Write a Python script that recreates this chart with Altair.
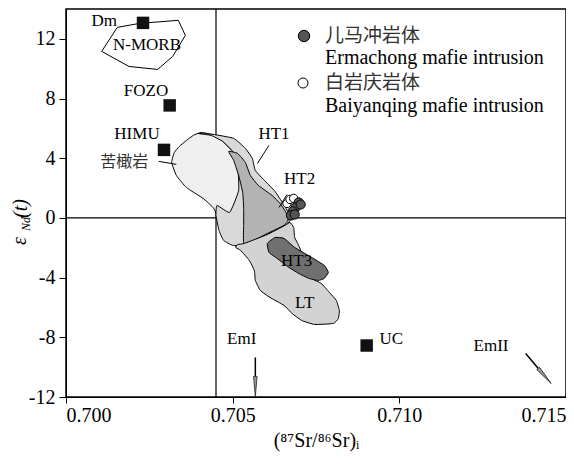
import altair as alt
import pandas as pd

# ---------------- data ----------------
x_ticks = [0.700, 0.705, 0.710, 0.715]
y_ticks = [-12, -8, -4, 0, 4, 8, 12]
x_domain = [0.700, 0.715]
y_domain = [-12, 14]

# end-member squares
em_names = ["Dm", "FOZO", "HIMU", "UC"]
em_x = [0.70231, 0.70311, 0.70294, 0.70902]
em_y = [13.07, 7.54, 4.56, -8.55]

# samples
erm_x = [0.70698, 0.70689, 0.70680, 0.70675, 0.70686, 0.70704]
erm_y = [1.04, 0.70, 0.44, 0.17, 0.23, 0.90]
bai_x = [0.70663, 0.70672, 0.70683]
bai_y = [0.97, 1.24, 1.31]

ref_x = 0.7045
ref_y = 0.0

# fields (polygon vertices)
nmorb_x = [0.70154, 0.70222, 0.70337, 0.70358, 0.70320, 0.70275, 0.70189, 0.70107]
nmorb_y = [12.77, 13.04, 13.24, 12.23, 10.82, 9.95, 10.15, 11.16]

pic_x = [0.70317, 0.70325, 0.70340, 0.70361, 0.70382, 0.70405, 0.70435, 0.70470, 0.70500,
         0.70530, 0.70559, 0.70598, 0.70636, 0.70660, 0.70657, 0.70604, 0.70538, 0.70515,
         0.70500, 0.70473, 0.70459, 0.70441, 0.70411, 0.70361, 0.70331]
pic_y = [3.72, 4.39, 4.79, 5.19, 5.53, 5.73, 5.60, 5.13, 4.46,
         3.59, 2.71, 1.78, 0.90, 0.23, -0.17, -0.97, -1.78, -2.04,
         -1.64, -0.97, -0.03, 0.70, 1.31, 2.04, 2.85]

ht1_x = [0.70396, 0.70441, 0.70503, 0.70538, 0.70559, 0.70568, 0.70598, 0.70627, 0.70651,
         0.70669, 0.70672, 0.70657, 0.70604, 0.70535, 0.70500, 0.70473, 0.70459, 0.70450,
         0.70453, 0.70491, 0.70518, 0.70515, 0.70500, 0.70470, 0.70435]
ht1_y = [5.66, 5.60, 5.33, 4.66, 3.99, 3.18, 2.45, 1.78, 0.97,
         0.30, -0.17, -0.57, -1.11, -1.78, -1.84, -1.51, -0.84, 0.17,
         0.84, 0.37, 1.84, 3.52, 4.46, 5.13, 5.53]

ht2_x = [0.70488, 0.70515, 0.70538, 0.70553, 0.70577, 0.70618, 0.70642, 0.70660, 0.70666,
         0.70654, 0.70604, 0.70535, 0.70533, 0.70533, 0.70530, 0.70518, 0.70503]
ht2_y = [4.46, 4.32, 3.72, 2.85, 2.18, 1.51, 0.97, 0.37, -0.17,
         -0.50, -1.04, -1.78, -0.50, 0.64, 1.71, 2.85, 3.85]

lt_x = [0.70515, 0.70535, 0.70604, 0.70657, 0.70672, 0.70683, 0.70686, 0.70698, 0.70722,
        0.70737, 0.70766, 0.70790, 0.70811, 0.70820, 0.70817, 0.70802, 0.70746, 0.70707,
        0.70678, 0.70654, 0.70612, 0.70583, 0.70568, 0.70565, 0.70550, 0.70524, 0.70509]
lt_y = [-1.78, -1.71, -1.11, -0.50, -0.30, -0.64, -1.31, -1.84, -3.18,
        -4.05, -4.39, -4.99, -5.53, -6.20, -6.74, -7.07, -7.14, -6.87,
        -6.40, -5.86, -5.33, -4.86, -4.19, -3.52, -2.85, -2.18, -1.98]

ht3_x = [0.70604, 0.70627, 0.70654, 0.70686, 0.70737, 0.70775, 0.70787, 0.70775, 0.70757,
         0.70728, 0.70698, 0.70669, 0.70633, 0.70609]
ht3_y = [-1.71, -1.31, -1.37, -1.98, -2.65, -3.18, -3.65, -4.05, -4.19,
         -4.05, -3.72, -3.32, -2.71, -2.31]

# text labels
lab_text = ["Dm", "N-MORB", "FOZO", "HIMU", "HT1", "HT2", "HT3", "LT", "EmI", "UC", "EmII"]
lab_x = [0.70115, 0.70243, 0.70240, 0.70213, 0.70624, 0.70701, 0.70692, 0.70716, 0.70527, 0.70976, 0.71275]
lab_y = [13.17, 11.56, 8.48, 5.60, 5.60, 2.58, -2.92, -5.73, -8.08, -8.14, -8.61]
pic_label = "苦橄岩"
pic_label_x = 0.70175
pic_label_y = 3.72

# leader lines
lead_x = [0.70278, 0.70609, 0.70663]
lead_y = [3.79, 4.86, 1.57]
lead_x2 = [0.70331, 0.70574, 0.70639]
lead_y2 = [3.59, 3.65, 0.70]

# arrows (shaft start, shaft end, head centre, head angle)
arr_x = [0.70568, 0.71379]
arr_y = [-9.35, -9.08]
arr_x2 = [0.70568, 0.71417]
arr_y2 = [-10.69, -10.09]
head_x = [0.70568, 0.71436]
head_y = [-11.29, -10.59]
head_angle = [0, 319]

# legend
leg_cn = ["儿马冲岩体", "白岩庆岩体"]
leg_en = ["Ermachong mafie intrusion", "Baiyanqing mafie intrusion"]

# ---------------- chart ----------------
SERIF = "Liberation Serif"
CJK = "Noto Sans CJK SC"
PLOT_W = 500
PLOT_H = 388

xs = alt.Scale(domain=x_domain, nice=False, zero=False)
ys = alt.Scale(domain=y_domain, nice=False, zero=False)


def X(field="x", axis=False):
    if axis:
        return alt.X(field + ":Q", scale=xs, axis=alt.Axis(
            values=x_ticks, format=".3f", title="(⁸⁷Sr/⁸⁶Sr)ᵢ", labelFlush=True,
            labelFontSize=20, labelFont=SERIF, labelColor="black", tickSize=6,
            tickColor="black", domainColor="black", labelPadding=2, grid=False,
            titleFont=SERIF, titleFontSize=20, titleFontWeight="normal",
            titleColor="black", titlePadding=5))
    return alt.X(field + ":Q", scale=xs)


def Y(field="y", axis=False):
    if axis:
        return alt.Y(field + ":Q", scale=ys, axis=alt.Axis(
            values=y_ticks, labelExpr="'' + datum.value", title=None, labelFlush=False,
            labelFontSize=20, labelFont=SERIF, labelColor="black", tickSize=7,
            tickColor="black", domainColor="black", labelPadding=4, grid=False))
    return alt.Y(field + ":Q", scale=ys)


def polygon(px, py, fill, interp="cardinal-closed"):
    df = pd.DataFrame({"x": px, "y": py, "i": list(range(len(px)))})
    return alt.Chart(df).mark_line(
        fill=fill, stroke="black", strokeWidth=1, interpolate=interp, tension=0.6
    ).encode(x=X(), y=Y(), order="i:Q")


base_df = pd.DataFrame({"x": [ref_x], "y": [ref_y]})
vline = alt.Chart(base_df).mark_rule(color="black", strokeWidth=1.2).encode(x=X("x", axis=True))
hline = alt.Chart(base_df).mark_rule(color="black", strokeWidth=1.2).encode(y=Y("y", axis=True))

nmorb = polygon(nmorb_x, nmorb_y, "none", "linear-closed")
pic = polygon(pic_x, pic_y, "#efefef")
ht1 = polygon(ht1_x, ht1_y, "#d9d9d9")
ht2 = polygon(ht2_x, ht2_y, "#b3b3b3")
lt = polygon(lt_x, lt_y, "#d3d3d3")
ht3 = polygon(ht3_x, ht3_y, "#707070")

em_df = pd.DataFrame({"x": em_x, "y": em_y, "name": em_names})
squares = alt.Chart(em_df).mark_square(size=155, color="#111111", opacity=1).encode(x=X(), y=Y())

bai_df = pd.DataFrame({"x": bai_x, "y": bai_y})
bai = alt.Chart(bai_df).mark_point(shape="circle", size=70, filled=True, fill="white",
                                   stroke="black", strokeWidth=1, opacity=1).encode(x=X(), y=Y())
erm_df = pd.DataFrame({"x": erm_x, "y": erm_y})
erm = alt.Chart(erm_df).mark_point(shape="circle", size=85, filled=True, fill="#555555",
                                   stroke="black", strokeWidth=1, opacity=1).encode(x=X(), y=Y())

lab_df = pd.DataFrame({"x": lab_x, "y": lab_y, "t": lab_text})
labels = alt.Chart(lab_df).mark_text(font=SERIF, fontSize=17, color="black").encode(
    x=X(), y=Y(), text="t:N")
pic_df = pd.DataFrame({"x": [pic_label_x], "y": [pic_label_y], "t": [pic_label]})
pic_lab = alt.Chart(pic_df).mark_text(font=CJK, fontSize=16, color="#333333").encode(
    x=X(), y=Y(), text="t:N")

lead_df = pd.DataFrame({"x": lead_x, "y": lead_y, "x2": lead_x2, "y2": lead_y2})
leads = alt.Chart(lead_df).mark_rule(color="black", strokeWidth=1).encode(
    x=X(), y=Y(), x2="x2:Q", y2="y2:Q")

arr_df = pd.DataFrame({"x": arr_x, "y": arr_y, "x2": arr_x2, "y2": arr_y2})
shafts = alt.Chart(arr_df).mark_rule(color="black", strokeWidth=1.5).encode(
    x=X(), y=Y(), x2="x2:Q", y2="y2:Q")
head_df = pd.DataFrame({"x": head_x, "y": head_y, "a": head_angle})
heads = alt.Chart(head_df).mark_point(
    shape="M-0.18,-1L0.18,-1L0,1Z", size=400, filled=True, fill="#999999",
    stroke="#222222", strokeWidth=0.8, opacity=1).encode(
    x=X(), y=Y(), angle=alt.Angle("a:Q", scale=None))

# y-axis title pieces (pixel positions relative to plot area)
ytitle_df = pd.DataFrame({"t": ["ε", "Nd", "(t)"], "px": [-40, -36, -39], "py": [236, 222, 209],
                          "fs": [20, 12, 20]})
ytitle = alt.Chart(ytitle_df).mark_text(angle=270, align="left", baseline="alphabetic",
                                        font=SERIF, color="black", fontStyle="italic").encode(
    x=alt.X("px:Q", scale=None), y=alt.Y("py:Q", scale=None), text="t:N",
    size=alt.Size("fs:Q", scale=None, legend=None))

# legend
leg_sym_df = pd.DataFrame({"px": [238], "py": [27]})
leg_sym1 = alt.Chart(leg_sym_df).mark_point(shape="circle", size=130, filled=True, fill="#555555",
                                            stroke="black", strokeWidth=1, opacity=1).encode(
    x=alt.X("px:Q", scale=None), y=alt.Y("py:Q", scale=None))
leg_sym_df2 = pd.DataFrame({"px": [237], "py": [74]})
leg_sym2 = alt.Chart(leg_sym_df2).mark_point(shape="circle", size=100, filled=True, fill="white",
                                             stroke="black", strokeWidth=1, opacity=1).encode(
    x=alt.X("px:Q", scale=None), y=alt.Y("py:Q", scale=None))
leg_cn_df = pd.DataFrame({"t": leg_cn, "px": [259, 259], "py": [27, 74]})
leg_cn_t = alt.Chart(leg_cn_df).mark_text(font=CJK, fontSize=19, color="#333333", align="left",
                                          baseline="middle").encode(
    x=alt.X("px:Q", scale=None), y=alt.Y("py:Q", scale=None), text="t:N")
leg_en_df = pd.DataFrame({"t": leg_en, "px": [259, 259], "py": [49, 97]})
leg_en_t = alt.Chart(leg_en_df).mark_text(font=SERIF, fontSize=20, color="black", align="left",
                                          baseline="middle").encode(
    x=alt.X("px:Q", scale=None), y=alt.Y("py:Q", scale=None), text="t:N")

chart = alt.layer(
    vline, hline, nmorb, pic, ht1, ht2, lt, ht3, leads, shafts, heads,
    squares, bai, erm, labels, pic_lab, ytitle, leg_sym1, leg_sym2, leg_cn_t, leg_en_t
).properties(
    width=PLOT_W, height=PLOT_H,
    autosize=alt.AutoSizeParams(type="none"),
    padding={"left": 58, "top": 1, "right": 0, "bottom": 57},
    background="white",
).configure_view(stroke="black", strokeWidth=1.5)

chart.save("out.html", embed_options={"renderer": "svg", "actions": False})
